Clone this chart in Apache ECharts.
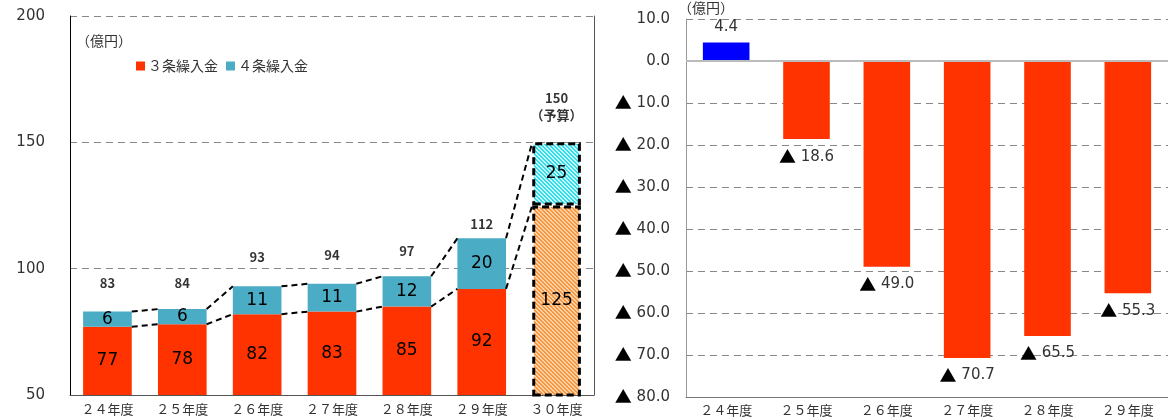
<!DOCTYPE html>
<html>
<head>
<meta charset="utf-8">
<script src="https://cdn.jsdelivr.net/npm/echarts@6/dist/echarts.min.js"></script>
<style>
  html, body { margin: 0; padding: 0; background: #fff; }
  #chart { width: 1168px; height: 419px; }
</style>
</head>
<body>
<div id="chart"></div>
<script>
// Transfers from the general account (left) and yearly balance (right)
const years = ['２４年度', '２５年度', '２６年度', '２７年度', '２８年度', '２９年度', '３０年度'];
const art3 = [77, 78, 82, 83, 85, 92, 125];   // ３条繰入金
const art4 = [6, 6, 11, 11, 12, 20, 25];      // ４条繰入金
const totals = [83, 84, 93, 94, 97, 112, 150];
const leftTicks = [50, 100, 150, 200];

const balanceYears = ['２４年度', '２５年度', '２６年度', '２７年度', '２８年度', '２９年度'];
const balance = [4.4, -18.6, -49.0, -70.7, -65.5, -55.3];

const NUM_FONT = '"DejaVu Sans", "Noto Sans CJK JP", sans-serif';
const JP_FONT = '"Noto Sans CJK JP", sans-serif';
const RED = '#FF3300';
const TEAL = '#4BACC6';
const BAR_RATIO = 0.65;

// diagonal hatch used for the budget year
function hatch(fg, bg) {
  const c = document.createElement('canvas');
  c.width = 4; c.height = 4;
  const g = c.getContext('2d');
  g.fillStyle = bg; g.fillRect(0, 0, 4, 4);
  g.fillStyle = fg;
  for (let i = 0; i < 4; i++) {
    g.fillRect(i, i, 1, 1);
    g.fillRect((i + 1) % 4, i, 1, 1);
  }
  return { image: c, repeat: 'repeat' };
}
const budgetBorder = { borderColor: '#000', borderWidth: 3, borderType: [7, 4] };

const last = years.length - 1;
const art3Data = art3.map((v, i) => i === last
  ? { value: v, itemStyle: Object.assign({ color: hatch('#F7963F', '#FFD2A8') }, budgetBorder) }
  : v);
const art4Data = art4.map((v, i) => i === last
  ? { value: v, itemStyle: Object.assign({ color: hatch('#2FDDEB', '#C8F6FA') }, budgetBorder) }
  : v);

// label gaps above each year's total
const totalGap = [20, 18, 21, 20, 17, 6, 19];
const totalData = totals.map((v, i) => ({
  value: v,
  label: { distance: totalGap[i] }
}));

// connectors between neighbouring bars
const linkData = [];
for (let i = 0; i < years.length - 1; i++) {
  linkData.push([i, art3[i], totals[i], art3[i + 1], totals[i + 1]]);
}

function fmtBalance(v) {
  if (v < 0) return '{t|▲} ' + (-v).toFixed(1);
  return v.toFixed(1);
}

const chart = echarts.init(document.getElementById('chart'));
chart.setOption({
  animation: false,
  textStyle: { fontFamily: NUM_FONT },
  grid: [
    { left: 70, top: 16, width: 524, bottom: 24 },
    { left: 686, top: 19, right: -4, bottom: 22 }
  ],
  legend: {
    data: ['３条繰入金', '４条繰入金'],
    left: 131, top: 54,
    icon: 'rect', itemWidth: 9, itemHeight: 9, itemGap: 8,
    textStyle: { fontFamily: JP_FONT, fontSize: 14, color: '#333', padding: [0, 0, 0, -2] }
  },
  graphic: [
    { type: 'text', left: 76, top: 34, style: { text: '（億円）', font: '14px ' + JP_FONT, fill: '#333' } },
    { type: 'text', left: 678, top: 1, style: { text: '（億円）', font: '14px ' + JP_FONT, fill: '#333' } }
  ],
  xAxis: [
    {
      gridIndex: 0, type: 'category', data: years,
      axisLine: { lineStyle: { color: '#555' } },
      axisTick: { show: false },
      axisLabel: { fontFamily: JP_FONT, fontSize: 13, color: '#333', margin: 8 }
    },
    {
      gridIndex: 1, type: 'category', data: balanceYears,
      axisLine: { onZero: false, lineStyle: { color: '#777' } },
      axisTick: { show: false },
      axisLabel: { fontFamily: JP_FONT, fontSize: 13, color: '#333', margin: 7 }
    }
  ],
  yAxis: [
    {
      gridIndex: 0, type: 'value', min: leftTicks[0], max: leftTicks[leftTicks.length - 1], interval: 50,
      axisLine: { show: true, lineStyle: { color: '#000' } },
      axisTick: { show: false },
      axisLabel: { fontSize: 15, color: '#333', margin: 25 },
      splitLine: { lineStyle: { color: '#888', type: [7, 5] } }
    },
    {
      gridIndex: 0, type: 'value', position: 'right', min: leftTicks[0], max: leftTicks[leftTicks.length - 1],
      axisLine: { show: true, lineStyle: { color: '#555' } },
      axisTick: { show: false }, axisLabel: { show: false }, splitLine: { show: false }
    },
    {
      gridIndex: 1, type: 'value', min: -80, max: 10, interval: 10,
      axisLine: { show: true, lineStyle: { color: '#999' } },
      axisTick: { show: false },
      axisLabel: {
        fontSize: 15, color: '#333', margin: 16,
        formatter: fmtBalance,
        rich: { t: { fontFamily: JP_FONT, fontSize: 17, color: '#000' } }
      },
      splitLine: { lineStyle: { color: '#888', type: [7, 5] } }
    }
  ],
  series: [
    {
      name: '３条繰入金', type: 'bar', stack: 'in', xAxisIndex: 0, yAxisIndex: 0,
      barWidth: (BAR_RATIO * 100) + '%',
      itemStyle: { color: RED },
      label: { show: true, position: 'inside', fontSize: 17, color: '#000' },
      data: art3Data
    },
    {
      name: '４条繰入金', type: 'bar', stack: 'in', xAxisIndex: 0, yAxisIndex: 0,
      barWidth: (BAR_RATIO * 100) + '%',
      itemStyle: { color: TEAL },
      label: { show: true, position: 'inside', fontSize: 17, color: '#000' },
      data: art4Data
    },
    {
      type: 'custom', xAxisIndex: 0, yAxisIndex: 0, silent: true, z: 5,
      encode: { x: 0, y: [1, 2, 3, 4] },
      data: linkData,
      renderItem: function (params, api) {
        const i = api.value(0);
        const half = api.size([1, 0])[0] * BAR_RATIO / 2;
        const style = { stroke: '#000', lineWidth: 2, lineDash: [6, 4], fill: null };
        const seg = (v0, v1) => {
          const p0 = api.coord([i, v0]);
          const p1 = api.coord([i + 1, v1]);
          return { type: 'line', shape: { x1: p0[0] + half, y1: p0[1], x2: p1[0] - half, y2: p1[1] }, style: style };
        };
        return { type: 'group', children: [seg(api.value(1), api.value(3)), seg(api.value(2), api.value(4))] };
      }
    },
    {
      type: 'scatter', xAxisIndex: 0, yAxisIndex: 0, symbolSize: 0, silent: true, z: 6,
      label: {
        show: true, position: 'top', fontSize: 13, fontWeight: 'bold', color: '#000',
        fontFamily: JP_FONT, lineHeight: 17,
        formatter: p => p.dataIndex === last ? p.value + '\n（予算）' : String(p.value)
      },
      data: totalData
    },
    {
      type: 'bar', xAxisIndex: 1, yAxisIndex: 2, barWidth: '58%',
      data: balance.map(v => ({ value: v, itemStyle: { color: v >= 0 ? '#0000FF' : RED } })),
      label: {
        show: true, fontSize: 15, color: '#333',
        position: 'bottom', distance: 9,
        formatter: p => fmtBalance(p.value),
        rich: { t: { fontFamily: JP_FONT, fontSize: 17, color: '#000' } }
      },
      labelLayout: function (params) { return {}; },
      markLine: {
        silent: true, symbol: 'none', label: { show: false },
        lineStyle: { color: '#bbb', type: 'solid', width: 2 },
        data: [{ yAxis: 0 }]
      }
    }
  ]
});
// positive value label sits above its bar
chart.setOption({
  series: [{}, {}, {}, {}, {
    data: balance.map(v => ({
      value: v,
      itemStyle: { color: v >= 0 ? '#0000FF' : RED },
      label: v >= 0 ? { position: 'top', distance: 8 } : undefined
    }))
  }]
});
</script>
</body>
</html>
